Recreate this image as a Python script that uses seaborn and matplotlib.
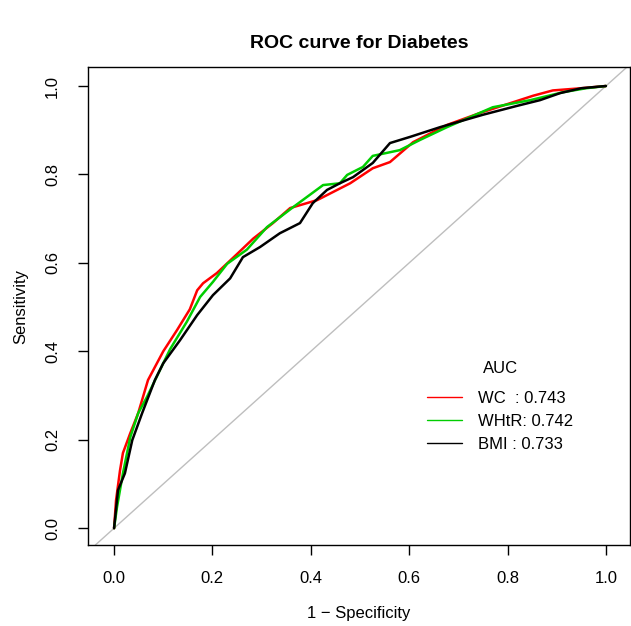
import numpy as np
import pandas as pd
import seaborn as sns
import matplotlib.pyplot as plt

# ROC points (1 - specificity, sensitivity)
wc_fpr = [0, 0.004, 0.012, 0.018, 0.033, 0.049, 0.069, 0.10, 0.128, 0.154, 0.169, 0.181,
          0.209, 0.25, 0.283, 0.323, 0.358, 0.413, 0.48, 0.526, 0.561, 0.608, 0.677,
          0.744, 0.852, 0.892, 0.95, 1.0]
wc_tpr = [0, 0.063, 0.13, 0.17, 0.215, 0.26, 0.335, 0.40, 0.448, 0.495, 0.538, 0.554,
          0.577, 0.62, 0.655, 0.69, 0.724, 0.742, 0.78, 0.814, 0.828, 0.873, 0.912,
          0.939, 0.978, 0.99, 0.995, 1.0]

whtr_fpr = [0, 0.006, 0.018, 0.033, 0.049, 0.067, 0.093, 0.114, 0.148, 0.175, 0.201, 0.23,
            0.27, 0.311, 0.364, 0.425, 0.459, 0.474, 0.506, 0.526, 0.581, 0.622, 0.677,
            0.77, 0.846, 0.913, 0.96, 1.0]
whtr_tpr = [0, 0.048, 0.124, 0.206, 0.26, 0.297, 0.357, 0.405, 0.467, 0.523, 0.557, 0.598,
            0.63, 0.681, 0.726, 0.776, 0.78, 0.799, 0.817, 0.842, 0.855, 0.878, 0.907,
            0.952, 0.968, 0.986, 0.995, 1.0]

bmi_fpr = [0, 0.008, 0.022, 0.037, 0.057, 0.083, 0.1, 0.134, 0.169, 0.201, 0.236, 0.262,
           0.297, 0.337, 0.378, 0.404, 0.433, 0.459, 0.486, 0.526, 0.561, 0.602, 0.663,
           0.75, 0.819, 0.866, 0.907, 0.95, 1.0]
bmi_tpr = [0, 0.086, 0.124, 0.199, 0.26, 0.335, 0.373, 0.425, 0.482, 0.527, 0.565, 0.613,
           0.636, 0.667, 0.69, 0.735, 0.765, 0.78, 0.794, 0.826, 0.871, 0.885, 0.907,
           0.935, 0.955, 0.968, 0.984, 0.995, 1.0]

labels = ["WC  : 0.743", "WHtR: 0.742", "BMI : 0.733"]
colors = ["#FF0000", "#00CD00", "#000000"]

df = pd.concat([
    pd.DataFrame({"fpr": wc_fpr, "tpr": wc_tpr, "model": labels[0]}),
    pd.DataFrame({"fpr": whtr_fpr, "tpr": whtr_tpr, "model": labels[1]}),
    pd.DataFrame({"fpr": bmi_fpr, "tpr": bmi_tpr, "model": labels[2]}),
], ignore_index=True)

sns.set_style("ticks", {"text.color": "black", "axes.labelcolor": "black",
                        "xtick.color": "black", "ytick.color": "black"})
plt.rcParams["font.family"] = ["Liberation Sans", "DejaVu Sans"]

fig = plt.figure(figsize=(6.31, 6.26), dpi=100)
ax = fig.add_axes([88 / 631, 81 / 626, 542 / 631, 478 / 626])

ax.axline((0, 0), (1, 1), color="#BEBEBE", lw=1, zorder=1)
sns.lineplot(data=df, x="fpr", y="tpr", hue="model", palette=colors, sort=False,
             estimator=None, lw=1.8, ax=ax, zorder=3)

ax.set_xlim(-0.053, 1.049)
ax.set_ylim(-0.038, 1.043)
ticks = [0, 0.2, 0.4, 0.6, 0.8, 1.0]
ax.set_xticks(ticks)
ax.set_yticks(ticks)
ax.set_xticklabels([f"{t:.1f}" for t in ticks])
ax.set_yticklabels([f"{t:.1f}" for t in ticks], rotation=90, va="center")
ax.tick_params(axis="both", labelsize=12, length=7, width=1, color="black",
               labelcolor="black")
ax.tick_params(axis="x", pad=12)
ax.tick_params(axis="y", pad=13)
for s in ax.spines.values():
    s.set_visible(True)
    s.set_color("black")
    s.set_linewidth(1)

ax.set_xlabel("1 \u2212 Specificity", fontsize=12, labelpad=14, color="black")
ax.set_ylabel("Sensitivity", fontsize=12, labelpad=12, color="black")
ax.set_title("ROC curve for Diabetes", fontsize=14, fontweight="bold", pad=14,
             color="black")

leg = ax.legend(title="AUC", loc="upper left", bbox_to_anchor=(0.625, 0.385),
                frameon=False, fontsize=12, title_fontsize=12, borderpad=0,
                borderaxespad=0, handlelength=2.1, handletextpad=1.0,
                labelspacing=0.48)
# a bit more room between the title and the entries, as in R's legend
leg._legend_box.sep = 11
for line in leg.get_lines():
    line.set_linewidth(1)
for t in leg.get_texts():
    t.set_color("black")
leg.get_title().set_color("black")

fig.savefig("out.png", dpi=100)
